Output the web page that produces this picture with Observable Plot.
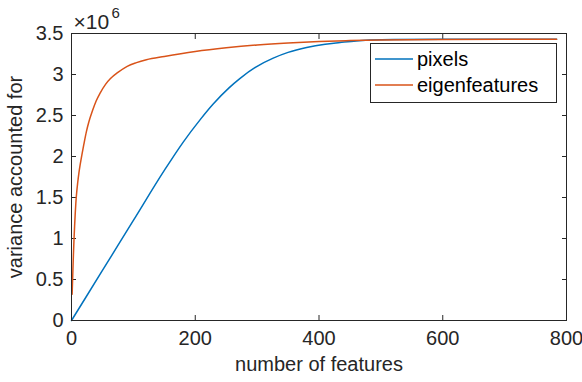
<!DOCTYPE html>
<html>
<head>
<meta charset="utf-8">
<script src="https://cdn.jsdelivr.net/npm/d3@7"></script>
<script src="https://cdn.jsdelivr.net/npm/@observablehq/plot@0.6"></script>
<style>
  html, body { margin: 0; padding: 0; background: #fff; }
  svg { display: block; }
</style>
</head>
<body>
<div id="chart"></div>
<script>
// values in units of 1e6
const pixelsX = [0, 50, 100, 150, 180, 208, 229, 255, 272, 300, 326, 350, 380, 410, 434, 460, 482, 520, 600, 700, 784];
const pixelsY = [0, 0.61, 1.22, 1.83, 2.17, 2.45, 2.64, 2.84, 2.95, 3.1, 3.2, 3.27, 3.33, 3.37, 3.39, 3.41, 3.42, 3.428, 3.43, 3.43, 3.43];
const eigenX = [1, 2, 3, 4, 5, 6, 7, 8, 10, 12, 14, 17, 20, 24, 28, 34, 40, 46, 55, 63, 75, 90, 105, 121, 150, 200, 250, 300, 350, 400, 450, 500, 600, 700, 784];
const eigenY = [0.32, 0.55, 0.78, 0.98, 1.15, 1.3, 1.43, 1.53, 1.68, 1.8, 1.9, 2.03, 2.15, 2.3, 2.42, 2.56, 2.68, 2.77, 2.88, 2.95, 3.025, 3.1, 3.145, 3.18, 3.22, 3.28, 3.325, 3.36, 3.385, 3.403, 3.414, 3.421, 3.428, 3.43, 3.43];
const xTicks = [0, 200, 400, 600, 800];
const yTicks = [0, 0.5, 1, 1.5, 2, 2.5, 3, 3.5];
const seriesNames = ["pixels", "eigenfeatures"];
const colors = ["#0072BD", "#D95319"];

const pixels = pixelsX.map((x, i) => ({x, y: pixelsY[i]}));
const eigen = eigenX.map((x, i) => ({x, y: eigenY[i]}));

const axisColor = "#262626";
const font = "Liberation Sans, Arial, Helvetica, sans-serif";

const chart = Plot.plot({
  width: 582,
  height: 382,
  marginLeft: 71,
  marginRight: 16,
  marginTop: 33,
  marginBottom: 62,
  style: {fontFamily: font, fontSize: "20px", color: axisColor, background: "#fff"},
  x: {domain: [0, 800]},
  y: {domain: [0, 3.5]},
  marks: [
    Plot.axisX({anchor: "bottom", ticks: xTicks, tickSize: -5, tickPadding: 15, stroke: axisColor,
      label: "number of features", labelAnchor: "center", labelOffset: 50, labelArrow: "none", fontSize: 20}),
    Plot.axisX({anchor: "top", ticks: xTicks, tickSize: -5, tickFormat: () => "", label: null, stroke: axisColor}),
    Plot.axisY({anchor: "left", ticks: yTicks, tickSize: -5, tickPadding: 13, stroke: axisColor,
      tickFormat: d => String(d),
      label: "variance accounted for", labelAnchor: "center", labelOffset: 64, labelArrow: "none", fontSize: 20}),
    Plot.axisY({anchor: "right", ticks: yTicks, tickSize: -5, tickFormat: () => "", label: null, stroke: axisColor}),
    Plot.line(pixels, {x: "x", y: "y", stroke: colors[0], strokeWidth: 1.5, curve: "monotone-x"}),
    Plot.line(eigen, {x: "x", y: "y", stroke: colors[1], strokeWidth: 1.5, curve: "monotone-x"}),
    Plot.frame({stroke: axisColor, strokeWidth: 1}),
    Plot.text(["×10"], {frameAnchor: "top-left", dx: 2, dy: -5, textAnchor: "start", lineAnchor: "bottom", fontSize: 21, fill: axisColor}),
    Plot.text(["6"], {frameAnchor: "top-left", dx: 40, dy: -16, textAnchor: "start", lineAnchor: "bottom", fontSize: 15, fill: axisColor})
  ]
});

// legend
const svg = d3.select(chart);
const lg = svg.append("g").attr("font-family", font).attr("font-size", 20).attr("text-anchor", "start");
lg.append("rect").attr("x", 370.5).attr("y", 43.5).attr("width", 186).attr("height", 59)
  .attr("fill", "#fff").attr("stroke", axisColor).attr("stroke-width", 1);
seriesNames.forEach((name, i) => {
  const cy = 59 + i * 26;
  lg.append("line").attr("x1", 375).attr("x2", 413).attr("y1", cy).attr("y2", cy)
    .attr("stroke", colors[i]).attr("stroke-width", 1.5);
  lg.append("text").attr("x", 417).attr("y", cy).attr("dy", "0.35em").attr("fill", "#000")
    .attr("text-anchor", "start").text(name);
});

document.getElementById("chart").appendChild(chart);
</script>
</body>
</html>
